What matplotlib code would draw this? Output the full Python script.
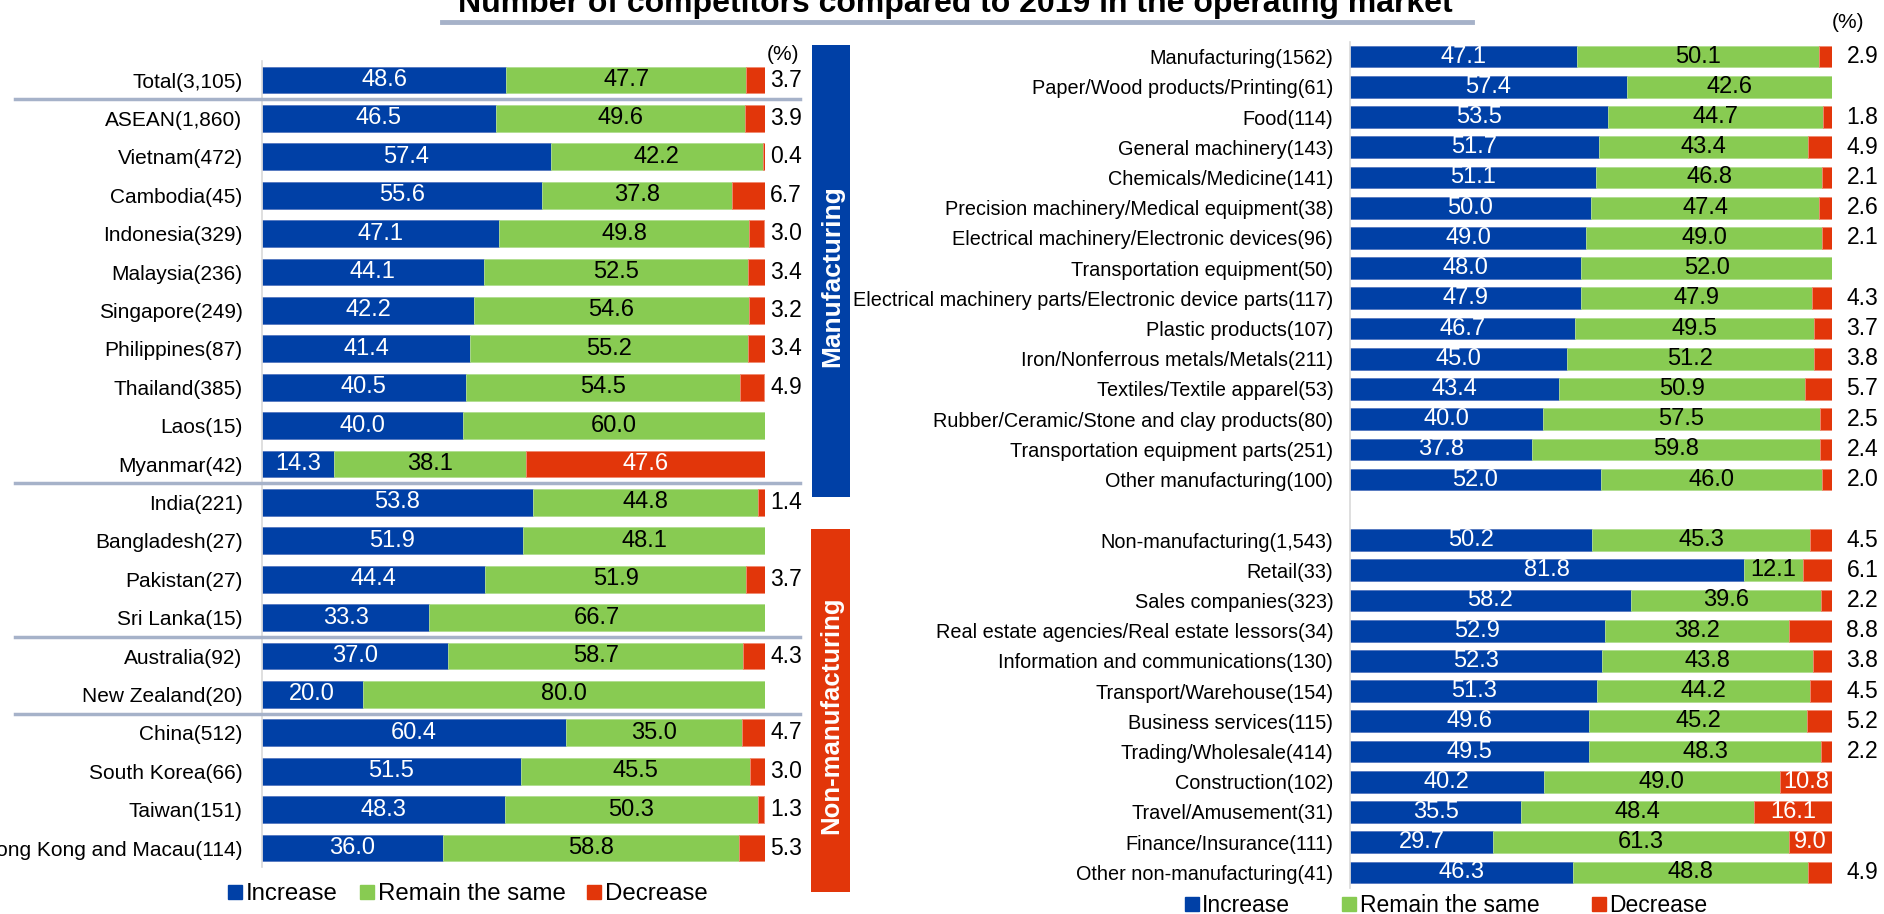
import matplotlib
matplotlib.use("Agg")
import matplotlib.pyplot as plt
import matplotlib.transforms as mtransforms
from matplotlib.patches import Rectangle
from matplotlib.lines import Line2D

plt.rcParams['font.family'] = ['Liberation Sans', 'DejaVu Sans']

BLUE = '#0040A6'
GREEN = '#88CB52'
RED = '#E2360A'
SEP = '#A6B2C9'

# left panel: countries / regions
left_labels = ['Total(3,105)', 'ASEAN(1,860)', 'Vietnam(472)', 'Cambodia(45)', 'Indonesia(329)',
               'Malaysia(236)', 'Singapore(249)', 'Philippines(87)', 'Thailand(385)', 'Laos(15)',
               'Myanmar(42)', 'India(221)', 'Bangladesh(27)', 'Pakistan(27)', 'Sri Lanka(15)',
               'Australia(92)', 'New Zealand(20)', 'China(512)', 'South Korea(66)', 'Taiwan(151)',
               'Hong Kong and Macau(114)']
left_inc = [48.6, 46.5, 57.4, 55.6, 47.1, 44.1, 42.2, 41.4, 40.5, 40.0, 14.3,
            53.8, 51.9, 44.4, 33.3, 37.0, 20.0, 60.4, 51.5, 48.3, 36.0]
left_same = [47.7, 49.6, 42.2, 37.8, 49.8, 52.5, 54.6, 55.2, 54.5, 60.0, 38.1,
             44.8, 48.1, 51.9, 66.7, 58.7, 80.0, 35.0, 45.5, 50.3, 58.8]
left_dec = [3.7, 3.9, 0.4, 6.7, 3.0, 3.4, 3.2, 3.4, 4.9, 0.0, 47.6,
            1.4, 0.0, 3.7, 0.0, 4.3, 0.0, 4.7, 3.0, 1.3, 5.3]

# right panel: industries (None = empty slot)
right_labels = ['Manufacturing(1562)', 'Paper/Wood products/Printing(61)', 'Food(114)',
                'General machinery(143)', 'Chemicals/Medicine(141)',
                'Precision machinery/Medical equipment(38)',
                'Electrical machinery/Electronic devices(96)', 'Transportation equipment(50)',
                'Electrical machinery parts/Electronic device parts(117)', 'Plastic products(107)',
                'Iron/Nonferrous metals/Metals(211)', 'Textiles/Textile apparel(53)',
                'Rubber/Ceramic/Stone and clay products(80)', 'Transportation equipment parts(251)',
                'Other manufacturing(100)', None,
                'Non-manufacturing(1,543)', 'Retail(33)', 'Sales companies(323)',
                'Real estate agencies/Real estate lessors(34)', 'Information and communications(130)',
                'Transport/Warehouse(154)', 'Business services(115)', 'Trading/Wholesale(414)',
                'Construction(102)', 'Travel/Amusement(31)', 'Finance/Insurance(111)',
                'Other non-manufacturing(41)']
right_inc = [47.1, 57.4, 53.5, 51.7, 51.1, 50.0, 49.0, 48.0, 47.9, 46.7, 45.0, 43.4, 40.0, 37.8, 52.0, None,
             50.2, 81.8, 58.2, 52.9, 52.3, 51.3, 49.6, 49.5, 40.2, 35.5, 29.7, 46.3]
right_same = [50.1, 42.6, 44.7, 43.4, 46.8, 47.4, 49.0, 52.0, 47.9, 49.5, 51.2, 50.9, 57.5, 59.8, 46.0, None,
              45.3, 12.1, 39.6, 38.2, 43.8, 44.2, 45.2, 48.3, 49.0, 48.4, 61.3, 48.8]
right_dec = [2.9, 0.0, 1.8, 4.9, 2.1, 2.6, 2.1, 0.0, 4.3, 3.7, 3.8, 5.7, 2.5, 2.4, 2.0, None,
             4.5, 6.1, 2.2, 8.8, 3.8, 4.5, 5.2, 2.2, 10.8, 16.1, 9.0, 4.9]

W, H = 1884, 914
fig = plt.figure(figsize=(W / 100, H / 100), dpi=100)


def panel(rect, labels, inc, same, dec, height, fs_lab, fs_val, out_x, pad):
    ax = fig.add_axes(rect)
    n = len(labels)
    ticks, ticklabels = [], []
    for i in range(n):
        if labels[i] is None:
            continue
        ticks.append(i)
        ticklabels.append(labels[i])
        a, b, c = inc[i], same[i], dec[i]
        ax.barh(i, a, height=height, color=BLUE, edgecolor='#5577C0', linewidth=0.6)
        ax.barh(i, b, left=a, height=height, color=GREEN, edgecolor='#B0DD90', linewidth=0.6)
        if c > 0:
            ax.barh(i, c, left=a + b, height=height, color=RED, edgecolor='#F08A70', linewidth=0.6)
        ax.text(a / 2, i, f'{a:.1f}', color='white', ha='center', va='center', fontsize=fs_val)
        ax.text(a + b / 2, i, f'{b:.1f}', color='black', ha='center', va='center', fontsize=fs_val)
        if c >= 9:
            ax.text(a + b + c / 2, i, f'{c:.1f}', color='white', ha='center', va='center', fontsize=fs_val)
        elif c > 0:
            ax.text(out_x, i, f'{c:.1f}', color='black', ha='left', va='center', fontsize=fs_val - 0.5)
    ax.set_xlim(0, 100)
    ax.set_ylim(n - 0.5, -0.5)
    ax.set_yticks(ticks)
    ax.set_yticklabels(ticklabels, fontsize=fs_lab)
    ax.set_xticks([])
    ax.tick_params(axis='y', length=0, pad=pad)
    for s in ['top', 'right', 'bottom']:
        ax.spines[s].set_visible(False)
    ax.spines['left'].set_color('#D9D9D9')
    ax.spines['left'].set_linewidth(1.2)
    return ax


# left panel: rows from y=80 to y=848 px
axl = panel([262 / W, 1 - 867.2 / H, 503 / W, 806.4 / H],
            left_labels, left_inc, left_same, left_dec, 0.70, 15, 17, 101, 14)
# right panel: rows from y=56.5 to y=872 px
axr = panel([1350 / W, 1 - 887.5 / H, 482 / W, 846 / H],
            right_labels, right_inc, right_same, right_dec, 0.72, 14.3, 17, 103, 12)

# group separator lines in left panel
tr = mtransforms.blended_transform_factory(fig.transFigure, axl.transData)
for yy in [0.5, 10.5, 14.5, 16.5]:
    fig.add_artist(Line2D([15 / W, 800 / W], [yy, yy], transform=tr, color=SEP, lw=2.5))

# title and underline
fig.text(955 / W, 1 - 12 / H, 'Number of competitors compared to 2019 in the operating market',
         ha='center', va='baseline', fontsize=23, fontweight='bold')
fig.add_artist(Line2D([442 / W, 1472 / W], [1 - 22 / H, 1 - 22 / H], color=SEP, lw=3.5))

fig.text(783 / W, 1 - 54 / H, '(%)', ha='center', va='center', fontsize=15)
fig.text(1848 / W, 1 - 22 / H, '(%)', ha='center', va='center', fontsize=15)

# side boxes
fig.add_artist(Rectangle((812 / W, 1 - 497 / H), 38 / W, 452 / H, transform=fig.transFigure,
                         color=BLUE, lw=0))
fig.text(832 / W, 1 - 276 / H, 'Manufacturing', rotation=90, ha='center', va='center',
         color='white', fontsize=19, fontweight='bold')
fig.add_artist(Rectangle((811 / W, 1 - 892 / H), 39 / W, 363 / H, transform=fig.transFigure,
                         color=RED, lw=0))
fig.text(831 / W, 1 - 715 / H, 'Non-manufacturing', rotation=90, ha='center', va='center',
         color='white', fontsize=18.5, fontweight='bold')

# legends
def handles(ms):
    return [Line2D([], [], marker='s', ls='', color=c, markersize=ms) for c in (BLUE, GREEN, RED)]

names = ['Increase', 'Remain the same', 'Decrease']
fig.legend(handles(10.5), names, loc='center', bbox_to_anchor=(468 / W, 1 - 894 / H), ncol=3,
           frameon=False, fontsize=17.3, handlelength=0.6, handletextpad=0.15, columnspacing=0.9)
fig.legend(handles(10.5), names, loc='center', bbox_to_anchor=(1446 / W, 1 - 906 / H), ncol=3,
           frameon=False, fontsize=16.5, handlelength=0.6, handletextpad=0.15, columnspacing=2.3)

fig.savefig('out.png', dpi=100)
